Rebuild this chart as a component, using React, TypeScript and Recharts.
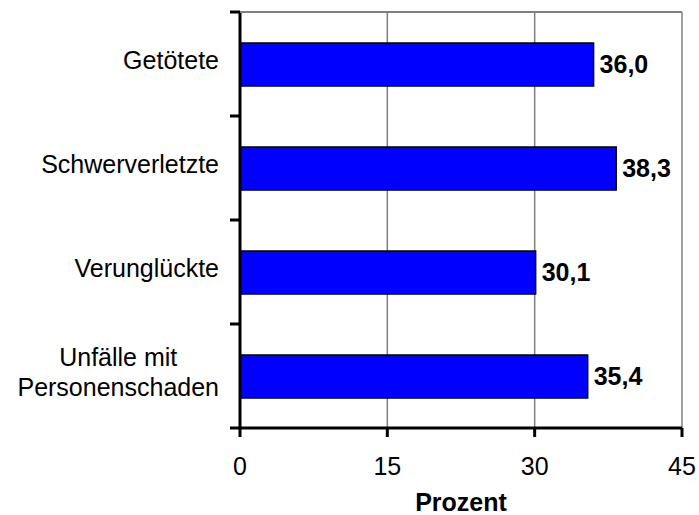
import React from 'react';
import { BarChart, Bar, XAxis, YAxis, CartesianGrid, LabelList } from 'recharts';

const categories = ['Getötete', 'Schwerverletzte', 'Verunglückte', 'Unfälle mit\nPersonenschaden'];
const values = [36.0, 38.3, 30.1, 35.4];
const xTicks = [0, 15, 30, 45];
const axisTitle = 'Prozent';

const data = categories.map((c, i) => ({ name: c, value: values[i] }));

const FONT = '"Liberation Sans", Arial, sans-serif';
const FS = 25;
const TICK_MARGIN = 21;
const BOUNDARY_TICK = 10;
const CHART_W = 699;
const CHART_H = 515;
const MARGIN = { top: 12, right: 17, bottom: 0, left: 0 };
const Y_AXIS_W = 240;
const PLOT_W = CHART_W - MARGIN.left - MARGIN.right - Y_AXIS_W;

let ctx: CanvasRenderingContext2D | null = null;
function measure(s: string): number {
  if (!ctx) ctx = document.createElement('canvas').getContext('2d');
  if (!ctx) return s.length * FS * 0.5;
  ctx.font = `${FS}px "Liberation Sans", Arial, sans-serif`;
  return ctx.measureText(s).width;
}

const CategoryTick = (props: any) => {
  const { x, y, payload } = props;
  const label = String(payload.value);
  const lines = label.split('\n');
  const lh = 30;
  const maxW = Math.max(...lines.map(measure));
  const cx = x - maxW / 2;
  const startDy = -((lines.length - 1) * lh) / 2;
  const half = payload.offset || 0;
  const axisX = x + TICK_MARGIN;
  const isFirst = label === categories[0];
  const isLast = label === categories[categories.length - 1];
  return (
    <g>
      {isFirst && (
        <line x1={axisX} x2={axisX + PLOT_W} y1={y - half} y2={y - half} stroke="#808080" strokeWidth={2} />
      )}
      <line x1={axisX - BOUNDARY_TICK} x2={axisX} y1={y - half} y2={y - half} stroke="#000" strokeWidth={3} />
      {isLast && (
        <line x1={axisX - BOUNDARY_TICK} x2={axisX} y1={y + half} y2={y + half} stroke="#000" strokeWidth={3} />
      )}
      <text x={cx} y={y} textAnchor="middle" fontFamily={FONT} fontSize={FS} fill="#000">
        {lines.map((l, i) => (
          <tspan key={i} x={cx} y={y + startDy + i * lh - 4} dy="0.355em">
            {l}
          </tspan>
        ))}
      </text>
    </g>
  );
};

const fmt = (v: any) => Number(v).toFixed(1).replace('.', ',');

export default function App() {
  return (
    <div style={{ position: 'absolute', left: 0, top: 0 }}>
      <BarChart width={CHART_W} height={CHART_H} data={data} layout="vertical" margin={MARGIN}>
        <CartesianGrid horizontal={false} stroke="#808080" strokeWidth={1.5} />
        <XAxis
          type="number"
          domain={[0, 45]}
          ticks={xTicks}
          height={87}
          tickSize={9}
          tickMargin={20}
          tickLine={{ stroke: '#000', strokeWidth: 3 }}
          axisLine={{ stroke: '#000', strokeWidth: 3 }}
          tick={{ fill: '#000', fontSize: FS, fontFamily: FONT }}
          label={{
            value: axisTitle,
            position: 'insideBottom',
            offset: 4,
            fill: '#000',
            fontSize: FS,
            fontWeight: 'bold',
            fontFamily: FONT,
          }}
        />
        <YAxis
          dataKey="name"
          type="category"
          width={Y_AXIS_W}
          interval={0}
          tickSize={0}
          tickMargin={TICK_MARGIN}
          tickLine={false}
          axisLine={{ stroke: '#000', strokeWidth: 3 }}
          tick={<CategoryTick />}
        />
        <Bar dataKey="value" fill="#0000FF" stroke="#000" strokeWidth={1.5} barSize={43} isAnimationActive={false}>
          <LabelList
            dataKey="value"
            position="right"
            offset={6}
            formatter={fmt}
            fill="#000"
            fontSize={FS}
            fontWeight="bold"
            fontFamily={FONT}
          />
        </Bar>
      </BarChart>
    </div>
  );
}
